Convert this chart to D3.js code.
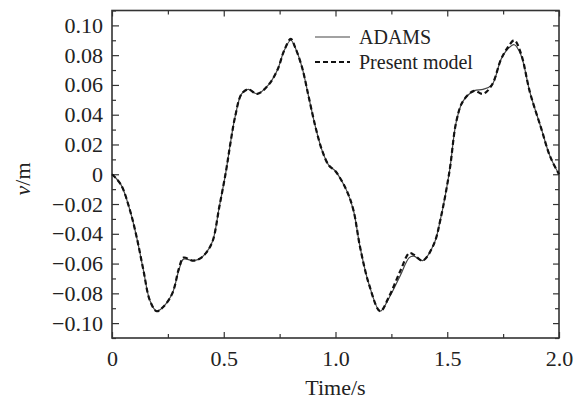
<!DOCTYPE html>
<html>
<head>
<meta charset="utf-8">
<script src="https://cdn.jsdelivr.net/npm/d3@7"></script>
<style>
  body { margin: 0; background: #fff; }
  svg text { font-family: "Liberation Serif", serif; fill: #222; }
</style>
</head>
<body>
<div id="chart"></div>
<script>
// time samples (s)
const times = [0, 0.04, 0.08, 0.11, 0.14, 0.17, 0.2, 0.23, 0.27, 0.3, 0.32, 0.36, 0.39, 0.42, 0.45, 0.48,
  0.51, 0.53, 0.55, 0.58, 0.61, 0.65, 0.7, 0.74, 0.77, 0.8, 0.82, 0.85, 0.88, 0.91, 0.94, 0.97,
  1.0, 1.05, 1.08, 1.11, 1.15, 1.2, 1.24, 1.29, 1.33, 1.35, 1.39, 1.44, 1.47, 1.51, 1.54, 1.57,
  1.62, 1.66, 1.7, 1.74, 1.77, 1.8, 1.83, 1.87, 1.92, 1.96, 2.0];

// ADAMS displacement (m)
const adams = [0, -0.007, -0.024, -0.042, -0.064, -0.085, -0.092, -0.089, -0.080, -0.064, -0.057, -0.058, -0.057, -0.053, -0.045, -0.022,
  0.002, 0.021, 0.038, 0.054, 0.057, 0.054, 0.060, 0.070, 0.083, 0.090, 0.085, 0.072, 0.052, 0.032, 0.016, 0.006,
  0.002, -0.011, -0.024, -0.049, -0.074, -0.092, -0.083, -0.068, -0.056, -0.055, -0.058, -0.047, -0.030, 0.002, 0.035, 0.049,
  0.056, 0.057, 0.060, 0.077, 0.084, 0.087, 0.080, 0.055, 0.031, 0.012, 0];

// present model displacement (m)
const present = [0, -0.007, -0.024, -0.042, -0.064, -0.085, -0.092, -0.089, -0.080, -0.063, -0.056, -0.058, -0.057, -0.053, -0.045, -0.022,
  0.002, 0.021, 0.038, 0.054, 0.057, 0.054, 0.060, 0.070, 0.083, 0.091, 0.085, 0.072, 0.052, 0.032, 0.016, 0.006,
  0.002, -0.011, -0.024, -0.049, -0.074, -0.092, -0.082, -0.065, -0.053, -0.054, -0.058, -0.047, -0.030, 0.002, 0.035, 0.049,
  0.056, 0.054, 0.060, 0.077, 0.085, 0.090, 0.081, 0.055, 0.031, 0.012, 0];

const xTicks = [0, 0.5, 1.0, 1.5, 2.0];
const xTickLabels = ['0', '0.5', '1.0', '1.5', '2.0'];
const xMinor = [0.25, 0.75, 1.25, 1.75];
const yTicks = [-0.10, -0.08, -0.06, -0.04, -0.02, 0, 0.02, 0.04, 0.06, 0.08, 0.10];
const yTickLabels = ['\u22120.10', '\u22120.08', '\u22120.06', '\u22120.04', '\u22120.02', '0', '0.02', '0.04', '0.06', '0.08', '0.10'];
const yMinor = [-0.11, -0.09, -0.07, -0.05, -0.03, -0.01, 0.01, 0.03, 0.05, 0.07, 0.09, 0.11];
const seriesNames = ['ADAMS', 'Present model'];

const svgWidth = 587, svgHeight = 399;
const margin = { top: 10.5, left: 112, right: 28, bottom: 61 };
const width = svgWidth - margin.left - margin.right;
const height = svgHeight - margin.top - margin.bottom;

const serif = '"Liberation Serif", serif';
const fontSize = '22px';
const axisColor = '#333';

const svg = d3.select('#chart').append('svg')
  .attr('width', svgWidth)
  .attr('height', svgHeight);

const g = svg.append('g')
  .attr('transform', `translate(${margin.left}, ${margin.top})`);

const xScale = d3.scaleLinear().domain([0, 2.0]).range([0, width]);
const yScale = d3.scaleLinear().domain([-0.11, 0.11]).range([height, 0]);

function styleAxis(sel) {
  sel.attr('font-family', null).attr('font-size', null);
  sel.select('.domain').remove();
  sel.selectAll('line').attr('stroke', axisColor).attr('stroke-width', 1.2);
  sel.selectAll('text')
    .style('font-family', serif)
    .style('font-size', fontSize)
    .attr('fill', '#222');
}

// bottom axis with labels (ticks point inward)
g.append('g')
  .attr('transform', `translate(0, ${height})`)
  .call(d3.axisBottom(xScale).tickValues(xTicks)
    .tickFormat((d, i) => xTickLabels[i]).tickSize(-6).tickPadding(12))
  .call(styleAxis);
g.append('g')
  .attr('transform', `translate(0, ${height})`)
  .call(d3.axisBottom(xScale).tickValues(xMinor).tickFormat('').tickSize(-4))
  .call(styleAxis);
// top axis ticks
g.append('g')
  .call(d3.axisTop(xScale).tickValues(xTicks).tickFormat('').tickSize(-6))
  .call(styleAxis);
g.append('g')
  .call(d3.axisTop(xScale).tickValues(xMinor).tickFormat('').tickSize(-4))
  .call(styleAxis);

// left axis with labels
g.append('g')
  .call(d3.axisLeft(yScale).tickValues(yTicks)
    .tickFormat((d, i) => yTickLabels[i]).tickSize(-7).tickPadding(9))
  .call(styleAxis);
g.append('g')
  .call(d3.axisLeft(yScale).tickValues(yMinor).tickFormat('').tickSize(-4))
  .call(styleAxis);
// right axis ticks
g.append('g')
  .attr('transform', `translate(${width}, 0)`)
  .call(d3.axisRight(yScale).tickValues(yTicks).tickFormat('').tickSize(-6))
  .call(styleAxis);
g.append('g')
  .attr('transform', `translate(${width}, 0)`)
  .call(d3.axisRight(yScale).tickValues(yMinor).tickFormat('').tickSize(-4))
  .call(styleAxis);

// frame
g.append('rect')
  .attr('x', 0).attr('y', 0)
  .attr('width', width).attr('height', height)
  .attr('fill', 'none')
  .attr('stroke', axisColor)
  .attr('stroke-width', 1.6);

// line builder
const line = d3.line()
  .curve(d3.curveCatmullRom.alpha(0.5))
  .x(d => xScale(d[0]))
  .y(d => yScale(d[1]));

g.append('path')
  .attr('d', line(times.map((t, i) => [t, adams[i]])))
  .attr('fill', 'none')
  .attr('stroke', '#444')
  .attr('stroke-width', 1.2);

g.append('path')
  .attr('d', line(times.map((t, i) => [t, present[i]])))
  .attr('fill', 'none')
  .attr('stroke', '#111')
  .attr('stroke-width', 2.2)
  .attr('stroke-dasharray', '5,3');

// legend
const legend = svg.append('g').attr('transform', 'translate(315, 37)');
legend.append('line')
  .attr('x1', 0).attr('x2', 35).attr('y1', 0).attr('y2', 0)
  .attr('stroke', '#444').attr('stroke-width', 1.2);
legend.append('line')
  .attr('x1', 0).attr('x2', 35).attr('y1', 25).attr('y2', 25)
  .attr('stroke', '#111').attr('stroke-width', 2.2).attr('stroke-dasharray', '5,3');
seriesNames.forEach((name, i) => {
  legend.append('text')
    .attr('x', 44)
    .attr('y', i * 25 + 7)
    .style('font-family', serif)
    .style('font-size', '20px')
    .text(name);
});

// axis titles
svg.append('text')
  .attr('x', margin.left + width / 2)
  .attr('y', 395)
  .attr('text-anchor', 'middle')
  .style('font-family', serif)
  .style('font-size', fontSize)
  .text('Time/s');

const yTitle = svg.append('text')
  .attr('transform', 'translate(30, 179) rotate(-90)')
  .attr('text-anchor', 'middle')
  .style('font-family', serif)
  .style('font-size', fontSize);
yTitle.append('tspan').attr('font-style', 'italic').text('v');
yTitle.append('tspan').text('/m');
</script>
</body>
</html>
